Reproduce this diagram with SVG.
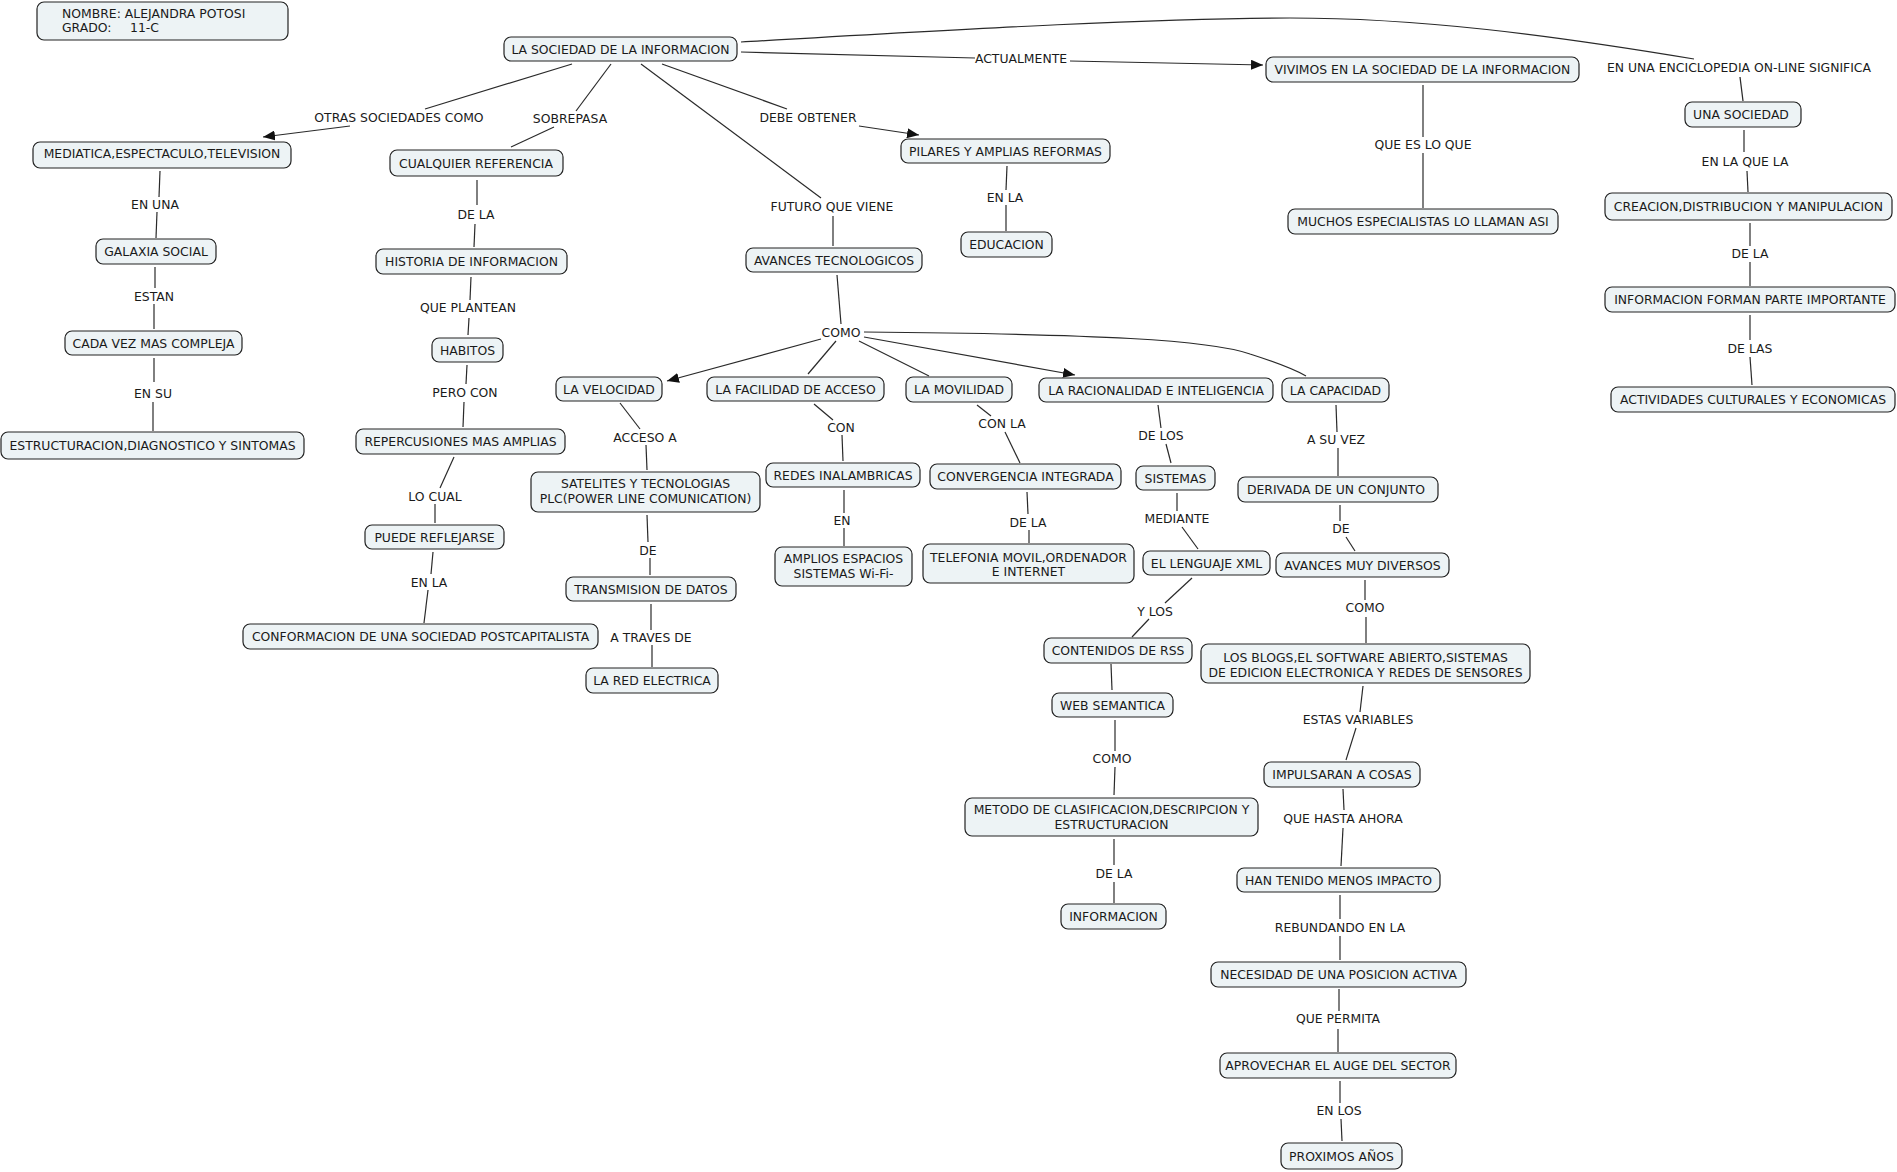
<svg xmlns="http://www.w3.org/2000/svg" width="1897" height="1172" viewBox="0 0 1897 1172">
<style>
.n rect{fill:#edf3f5;stroke:#222;stroke-width:1.2}
text{font-family:"DejaVu Sans","Verdana",sans-serif;font-size:12.4px;fill:#1a1a1a;text-anchor:middle}
.l{fill:#1a1a1a}
#connectors path{fill:none;stroke:#2a2a2a;stroke-width:1.2}
</style>
<defs>
<marker id="ah" viewBox="0 0 12 10" refX="12" refY="5" markerWidth="12" markerHeight="10" markerUnits="userSpaceOnUse" orient="auto">
<path d="M0,0 L12,5 L0,10 z" fill="#111"/>
</marker>
</defs>
<rect width="1897" height="1172" fill="#fff"/>
<g id="connectors">
<path d="M572,64 L425,109"/><path d="M350,126 L263,137" marker-end="url(#ah)"/>
<path d="M611,64 L576,111"/><path d="M554,127 L511,147"/>
<path d="M641,64 L821,198"/><path d="M833,216 L833,246"/>
<path d="M662,64 L787,109"/><path d="M859,126 L919,135" marker-end="url(#ah)"/>
<path d="M741,52 L975,58"/><path d="M1070,61 L1263,65" marker-end="url(#ah)"/>
<path d="M741,42 C950,30 1150,18 1290,18 C1420,18 1550,35 1694,59"/><path d="M1740,77 L1743,101"/>
<path d="M160,171 L159,197"/><path d="M157,212 L156,238"/>
<path d="M155,267 L155,288"/><path d="M154,304 L154,329"/>
<path d="M154,358 L154,382"/><path d="M153,402 L153,431"/>
<path d="M477,180 L477,205"/><path d="M475,224 L474,247"/>
<path d="M471,277 L470,300"/><path d="M469,318 L468,335"/>
<path d="M467,365 L466,384"/><path d="M464,402 L463,427"/>
<path d="M454,457 L440,488"/><path d="M435,504 L435,523"/>
<path d="M433,552 L431,574"/><path d="M428,590 L424,623"/>
<path d="M1007,166 L1006,190"/><path d="M1006,205 L1006,231"/>
<path d="M1423,85 L1423,137"/><path d="M1423,153 L1423,208"/>
<path d="M1744,130 L1744,152"/><path d="M1747,171 L1748,192"/>
<path d="M1750,223 L1750,246"/><path d="M1750,262 L1750,286"/>
<path d="M1750,315 L1750,340"/><path d="M1750,357 L1752,385"/>
<path d="M837,275 L841,324"/>
<path d="M821,339 L667,381" marker-end="url(#ah)"/>
<path d="M836,341 L808,374"/>
<path d="M859,341 L929,376"/>
<path d="M864,337 L1075,375" marker-end="url(#ah)"/>
<path d="M864,332 C1100,334 1210,340 1250,354 C1275,362 1292,368 1306,376"/>
<path d="M620,403 L640,429"/><path d="M646,445 L647,470"/>
<path d="M647,515 L648,542"/><path d="M650,558 L650,575"/>
<path d="M651,604 L651,630"/><path d="M652,645 L652,667"/>
<path d="M814,404 L833,420"/><path d="M842,435 L843,461"/>
<path d="M844,490 L844,513"/><path d="M844,528 L844,546"/>
<path d="M977,405 L991,416"/><path d="M1005,432 L1020,463"/>
<path d="M1027,492 L1028,514"/><path d="M1029,530 L1029,543"/>
<path d="M1158,405 L1161,428"/><path d="M1166,444 L1171,463"/>
<path d="M1177,493 L1177,511"/><path d="M1182,527 L1198,549"/>
<path d="M1192,578 L1165,603"/><path d="M1149,619 L1132,637"/>
<path d="M1111,664 L1112,690"/>
<path d="M1115,720 L1115,751"/><path d="M1115,767 L1114,795"/>
<path d="M1114,839 L1114,865"/><path d="M1114,882 L1114,903"/>
<path d="M1336,405 L1337,432"/><path d="M1338,448 L1338,476"/>
<path d="M1340,505 L1340,521"/><path d="M1346,537 L1355,551"/>
<path d="M1365,580 L1365,600"/><path d="M1366,617 L1366,643"/>
<path d="M1363,686 L1360,712"/><path d="M1356,728 L1346,760"/>
<path d="M1343,789 L1344,810"/><path d="M1343,828 L1341,866"/>
<path d="M1340,895 L1340,919"/><path d="M1340,936 L1340,960"/>
<path d="M1339,989 L1339,1011"/><path d="M1338,1029 L1338,1052"/>
<path d="M1340,1081 L1340,1103"/><path d="M1341,1119 L1342,1141"/>
</g>
<g id="labels">
<text x="399" y="122">OTRAS SOCIEDADES COMO</text>
<text x="570" y="123">SOBREPASA</text>
<text x="808" y="122">DEBE OBTENER</text>
<text x="1021" y="63">ACTUALMENTE</text>
<text x="832" y="211">FUTURO QUE VIENE</text>
<text x="1005" y="202">EN LA</text>
<text x="1423" y="149">QUE ES LO QUE</text>
<text x="1739" y="72">EN UNA ENCICLOPEDIA ON-LINE SIGNIFICA</text>
<text x="1745" y="166">EN LA QUE LA</text>
<text x="1750" y="258">DE LA</text>
<text x="1750" y="353">DE LAS</text>
<text x="155" y="209">EN UNA</text>
<text x="154" y="301">ESTAN</text>
<text x="153" y="398">EN SU</text>
<text x="476" y="219">DE LA</text>
<text x="468" y="312">QUE PLANTEAN</text>
<text x="465" y="397">PERO CON</text>
<text x="435" y="501">LO CUAL</text>
<text x="429" y="587">EN LA</text>
<text x="841" y="337">COMO</text>
<text x="645" y="442">ACCESO A</text>
<text x="648" y="555">DE</text>
<text x="651" y="642">A TRAVES DE</text>
<text x="841" y="432">CON</text>
<text x="842" y="525">EN</text>
<text x="1002" y="428">CON LA</text>
<text x="1028" y="527">DE LA</text>
<text x="1161" y="440">DE LOS</text>
<text x="1177" y="523">MEDIANTE</text>
<text x="1155" y="616">Y LOS</text>
<text x="1112" y="763">COMO</text>
<text x="1114" y="878">DE LA</text>
<text x="1336" y="444">A SU VEZ</text>
<text x="1341" y="533">DE</text>
<text x="1365" y="612">COMO</text>
<text x="1358" y="724">ESTAS VARIABLES</text>
<text x="1343" y="823">QUE HASTA AHORA</text>
<text x="1340" y="932">REBUNDANDO EN LA</text>
<text x="1338" y="1023">QUE PERMITA</text>
<text x="1339" y="1115">EN LOS</text>
</g>
<g id="n1" class="n"><rect x="37" y="2" width="251" height="38" rx="7"/><text x="62" y="18" style="text-anchor:start">NOMBRE: ALEJANDRA POTOSI</text><text x="62" y="32" style="text-anchor:start">GRADO:</text><text x="130" y="32" style="text-anchor:start">11-C</text></g>
<g id="n2" class="n"><rect x="504" y="37" width="233" height="24" rx="7"/><text x="620.5" y="53.5">LA SOCIEDAD DE LA INFORMACION</text></g>
<g id="n3" class="n"><rect x="33" y="142" width="258" height="26" rx="7"/><text x="162" y="158">MEDIATICA,ESPECTACULO,TELEVISION</text></g>
<g id="n4" class="n"><rect x="96" y="239" width="120" height="25" rx="7"/><text x="156" y="256">GALAXIA SOCIAL</text></g>
<g id="n5" class="n"><rect x="65" y="331" width="177" height="24" rx="7"/><text x="153.5" y="347.5">CADA VEZ MAS COMPLEJA</text></g>
<g id="n6" class="n"><rect x="1" y="432" width="303" height="27" rx="7"/><text x="152.5" y="450">ESTRUCTURACION,DIAGNOSTICO Y SINTOMAS</text></g>
<g id="n7" class="n"><rect x="390" y="150" width="173" height="26" rx="7"/><text x="476" y="167.5">CUALQUIER REFERENCIA</text></g>
<g id="n8" class="n"><rect x="376" y="249" width="191" height="25" rx="7"/><text x="471.5" y="266">HISTORIA DE INFORMACION</text></g>
<g id="n9" class="n"><rect x="432" y="338" width="71" height="24" rx="7"/><text x="467.5" y="354.5">HABITOS</text></g>
<g id="n10" class="n"><rect x="356" y="429" width="209" height="25" rx="7"/><text x="460.5" y="446">REPERCUSIONES MAS AMPLIAS</text></g>
<g id="n11" class="n"><rect x="365" y="525" width="139" height="24" rx="7"/><text x="434.5" y="541.5">PUEDE REFLEJARSE</text></g>
<g id="n12" class="n"><rect x="243" y="624" width="355" height="25" rx="7"/><text x="420.5" y="641">CONFORMACION DE UNA SOCIEDAD POSTCAPITALISTA</text></g>
<g id="n13" class="n"><rect x="901" y="139" width="209" height="24" rx="7"/><text x="1005.5" y="155.5">PILARES Y AMPLIAS REFORMAS</text></g>
<g id="n14" class="n"><rect x="961" y="232" width="91" height="25" rx="7"/><text x="1006.5" y="249">EDUCACION</text></g>
<g id="n15" class="n"><rect x="746" y="248" width="176" height="24" rx="7"/><text x="834" y="264.5">AVANCES TECNOLOGICOS</text></g>
<g id="n16" class="n"><rect x="556" y="377" width="106" height="24" rx="7"/><text x="609" y="393.5">LA VELOCIDAD</text></g>
<g id="n17" class="n"><rect x="707" y="377" width="177" height="24" rx="7"/><text x="795.5" y="393.5">LA FACILIDAD DE ACCESO</text></g>
<g id="n18" class="n"><rect x="906" y="377" width="106" height="25" rx="7"/><text x="959" y="394">LA MOVILIDAD</text></g>
<g id="n19" class="n"><rect x="1039" y="378" width="234" height="24" rx="7"/><text x="1156" y="394.5">LA RACIONALIDAD E INTELIGENCIA</text></g>
<g id="n20" class="n"><rect x="1282" y="378" width="107" height="24" rx="7"/><text x="1335.5" y="394.5">LA CAPACIDAD</text></g>
<g id="n21" class="n"><rect x="531" y="472" width="229" height="40" rx="7"/><text x="645.5" y="488">SATELITES Y TECNOLOGIAS</text><text x="645.5" y="503">PLC(POWER LINE COMUNICATION)</text></g>
<g id="n22" class="n"><rect x="566" y="577" width="170" height="24" rx="7"/><text x="651" y="593.5">TRANSMISION DE DATOS</text></g>
<g id="n23" class="n"><rect x="586" y="668" width="132" height="25" rx="7"/><text x="652" y="685">LA RED ELECTRICA</text></g>
<g id="n24" class="n"><rect x="766" y="463" width="154" height="24" rx="7"/><text x="843" y="479.5">REDES INALAMBRICAS</text></g>
<g id="n25" class="n"><rect x="775" y="547" width="137" height="39" rx="7"/><text x="843.5" y="563">AMPLIOS ESPACIOS</text><text x="843.5" y="578">SISTEMAS Wi-Fi-</text></g>
<g id="n26" class="n"><rect x="930" y="464" width="191" height="25" rx="7"/><text x="1025.5" y="481">CONVERGENCIA INTEGRADA</text></g>
<g id="n27" class="n"><rect x="923" y="544" width="211" height="39" rx="7"/><text x="1028.5" y="561.5">TELEFONIA MOVIL,ORDENADOR</text><text x="1028.5" y="576">E INTERNET</text></g>
<g id="n28" class="n"><rect x="1136" y="466" width="79" height="24" rx="7"/><text x="1175.5" y="482.5">SISTEMAS</text></g>
<g id="n29" class="n"><rect x="1143" y="551" width="127" height="24" rx="7"/><text x="1206.5" y="567.5">EL LENGUAJE XML</text></g>
<g id="n30" class="n"><rect x="1044" y="638" width="148" height="25" rx="7"/><text x="1118" y="655">CONTENIDOS DE RSS</text></g>
<g id="n31" class="n"><rect x="1052" y="693" width="121" height="24" rx="7"/><text x="1112.5" y="709.5">WEB SEMANTICA</text></g>
<g id="n32" class="n"><rect x="965" y="798" width="293" height="38" rx="7"/><text x="1111.5" y="814">METODO DE CLASIFICACION,DESCRIPCION Y</text><text x="1111.5" y="829">ESTRUCTURACION</text></g>
<g id="n33" class="n"><rect x="1061" y="904" width="105" height="25" rx="7"/><text x="1113.5" y="921">INFORMACION</text></g>
<g id="n34" class="n"><rect x="1238" y="477" width="200" height="25" rx="7"/><text x="1336" y="494">DERIVADA DE UN CONJUNTO</text></g>
<g id="n35" class="n"><rect x="1276" y="553" width="173" height="24" rx="7"/><text x="1362.5" y="569.5">AVANCES MUY DIVERSOS</text></g>
<g id="n36" class="n"><rect x="1201" y="644" width="329" height="39" rx="7"/><text x="1365.5" y="662">LOS BLOGS,EL SOFTWARE ABIERTO,SISTEMAS</text><text x="1365.5" y="677">DE EDICION ELECTRONICA Y REDES DE SENSORES</text></g>
<g id="n37" class="n"><rect x="1264" y="762" width="156" height="25" rx="7"/><text x="1342" y="779">IMPULSARAN A COSAS</text></g>
<g id="n38" class="n"><rect x="1237" y="868" width="203" height="24" rx="7"/><text x="1338.5" y="884.5">HAN TENIDO MENOS IMPACTO</text></g>
<g id="n39" class="n"><rect x="1211" y="962" width="255" height="25" rx="7"/><text x="1338.5" y="979">NECESIDAD DE UNA POSICION ACTIVA</text></g>
<g id="n40" class="n"><rect x="1220" y="1053" width="236" height="25" rx="7"/><text x="1338" y="1070">APROVECHAR EL AUGE DEL SECTOR</text></g>
<g id="n41" class="n"><rect x="1281" y="1143" width="121" height="26" rx="7"/><text x="1341.5" y="1160.5">PROXIMOS AÑOS</text></g>
<g id="n42" class="n"><rect x="1266" y="57" width="313" height="25" rx="7"/><text x="1422.5" y="74">VIVIMOS EN LA SOCIEDAD DE LA INFORMACION</text></g>
<g id="n43" class="n"><rect x="1288" y="209" width="270" height="25" rx="7"/><text x="1423" y="226">MUCHOS ESPECIALISTAS LO LLAMAN ASI</text></g>
<g id="n44" class="n"><rect x="1685" y="102" width="116" height="25" rx="7"/><text x="1741" y="119">UNA SOCIEDAD</text></g>
<g id="n45" class="n"><rect x="1605" y="193" width="287" height="27" rx="7"/><text x="1748.5" y="211">CREACION,DISTRIBUCION Y MANIPULACION</text></g>
<g id="n46" class="n"><rect x="1605" y="287" width="290" height="25" rx="7"/><text x="1750" y="304">INFORMACION FORMAN PARTE IMPORTANTE</text></g>
<g id="n47" class="n"><rect x="1611" y="387" width="284" height="25" rx="7"/><text x="1753" y="404">ACTIVIDADES CULTURALES Y ECONOMICAS</text></g>
</svg>
